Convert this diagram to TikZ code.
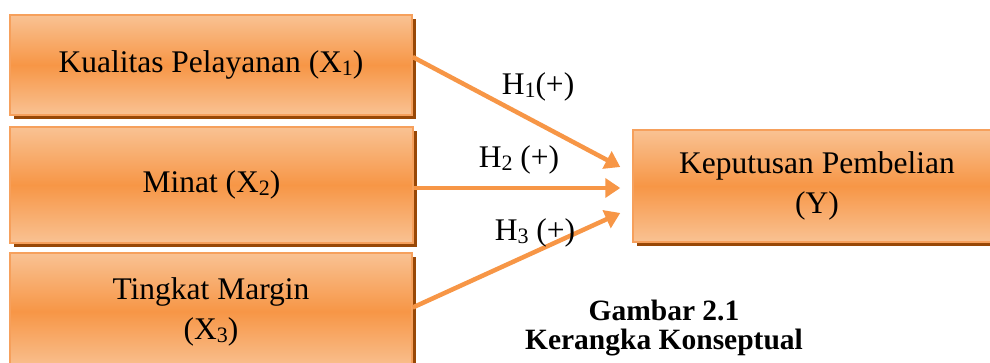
\documentclass[tikz,border=0pt]{standalone}
\usepackage{fontspec}
\setmainfont{Liberation Serif}
\usetikzlibrary{arrows.meta,shadows,calc}
\definecolor{boxlight}{HTML}{F9C293}
\definecolor{boxmid}{HTML}{F79646}
\definecolor{boxline}{HTML}{F6A05C}
\definecolor{shadowbrown}{HTML}{984807}
\definecolor{arrowor}{HTML}{F79646}
\newcommand{\sbs}[1]{\raisebox{-3pt}{\fontsize{22}{22}\selectfont #1}}
\begin{document}
\begin{tikzpicture}[x=1pt,y=-1pt,
  varbox/.style={draw=boxline, line width=1.5pt, top color=boxlight, bottom color=boxlight, middle color=boxmid,
    drop shadow={shadow xshift=3.5pt, shadow yshift=-4pt, fill=shadowbrown, opacity=1},
    align=center, font=\fontsize{31.5}{40}\selectfont, inner sep=0pt},
  link/.style={draw=arrowor, line width=4.5pt, -{Triangle[length=15pt,width=19pt]}},
  hlabel/.style={font=\fontsize{31.5}{40}\selectfont, inner sep=0pt},
  captext/.style={font=\bfseries\fontsize{29.5}{28.5}\selectfont, align=center, inner sep=0pt}
]
\useasboundingbox (0,0) rectangle (990,363);
\fill[white] (0,0) rectangle (990,363);
\clip (0,0) rectangle (990,363);
\node[varbox, minimum width=402pt, minimum height=100pt] (x1) at (211,65) {Kualitas Pelayanan (X\sbs{1})};
\node[varbox, minimum width=403pt, minimum height=116pt] (x2) at (211.5,185) {Minat (X\sbs{2})};
\node[varbox, minimum width=402pt, minimum height=117pt] (x3) at (211,311.5) {Tingkat Margin\\(X\sbs{3})};
\node[varbox, minimum width=368pt, minimum height=112pt] (y) at (817,186) {Keputusan Pembelian\\(Y)};
\draw[link] ([yshift=8pt]x1.east) -- ([xshift=-12pt,yshift=19pt]y.west);
\draw[link] ([yshift=-3pt]x2.east) -- ([xshift=-12pt,yshift=-2pt]y.west);
\draw[link] ([yshift=4pt]x3.east) -- ([xshift=-12pt,yshift=-27pt]y.west);
\node[hlabel] (h1) at (538,87) {H\sbs{1}(+)};
\node[hlabel] (h2) at (519,160) {H\sbs{2} (+)};
\node[hlabel] (h3) at (535,233) {H\sbs{3} (+)};
\node[captext] (cap) at (664,328) {Gambar 2.1\\Kerangka Konseptual};
\end{tikzpicture}
\end{document}
